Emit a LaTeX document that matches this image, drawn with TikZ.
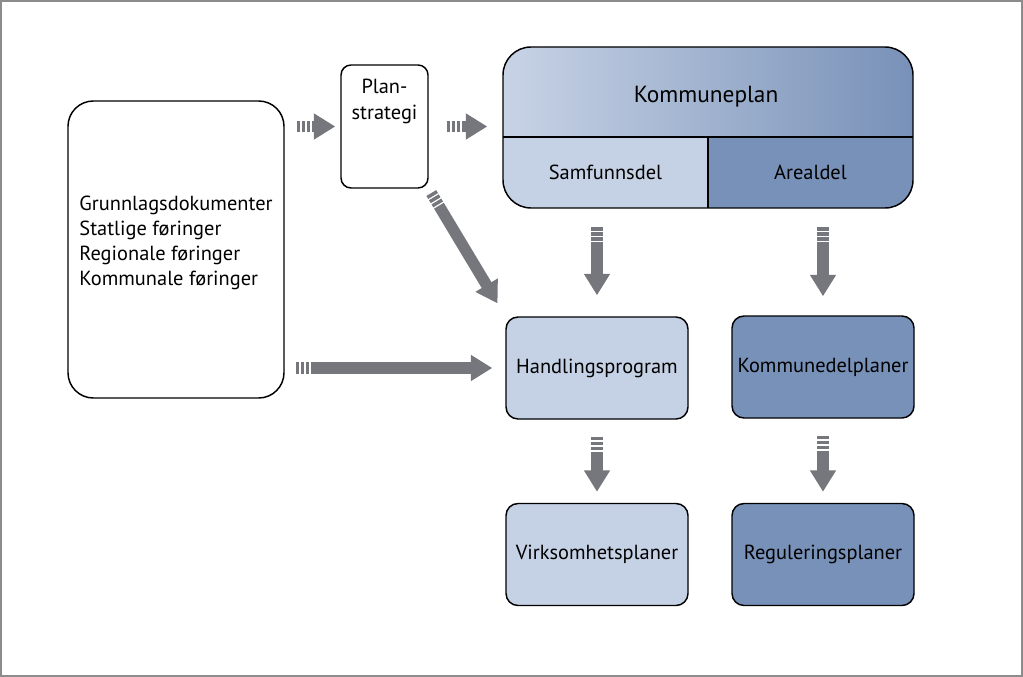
\documentclass[tikz,border=0pt]{standalone}
\usepackage{fontspec}
\setmainfont{PT Sans}
\usetikzlibrary{arrows.meta}
\definecolor{lysblaa}{HTML}{C5D1E4}
\definecolor{morkblaa}{HTML}{7891B8}
\definecolor{pilgraa}{HTML}{76777D}
\begin{document}
\begin{tikzpicture}[x=0.75pt,y=-0.75pt,
		boks/.style={draw,line width=1.1pt,minimum width=136.5pt,minimum height=76.5pt,rounded corners=9pt,font=\fontsize{15.3}{18}\selectfont},
		celle/.style={minimum width=153.75pt,minimum height=53.25pt,inner sep=0pt,font=\fontsize{15.3}{18}\selectfont},
		pil/.style={draw=pilgraa,line width=8.5pt,-{Triangle[length=16pt,width=18.5pt]},
			dash pattern={on 2.6pt off 1.1pt on 2.6pt off 1.1pt on 2.6pt off 1.1pt on 2000pt}}]
	\useasboundingbox (0,0) rectangle (1023,677);
	\draw[gray!90,line width=1.5pt] (1,1) rectangle (1022,676);
	%Venstre boks og planstrategi
	\node[boks,minimum width=162pt,minimum height=222.75pt,rounded corners=19pt,align=left,
		font=\fontsize{15.3}{18.75}\selectfont] (grunnlag) at (176,249.5)
		{Grunnlagsdokumenter\\Statlige føringer\\Regionale føringer\\Kommunale føringer\\[-6pt]};
	\node[boks,minimum width=65.25pt,minimum height=92.25pt,rounded corners=7.5pt] (plan) at (384.5,126.5) {};
	\node[align=center,font=\fontsize{15.3}{19.5}\selectfont] (plantekst) at (384.5,101) {Plan-\\strategi};
	%Kommuneplan
	\begin{scope}
		\clip[rounded corners=21pt] (503,47) rectangle (913,208);
		\shade[left color=lysblaa!95!white,right color=morkblaa] (503,47) rectangle (913,137);
		\fill[lysblaa] (503,137) rectangle (708,208);
		\fill[morkblaa] (708,137) rectangle (913,208);
	\end{scope}
	\node[draw,line width=1.1pt,rounded corners=21pt,minimum width=307.5pt,minimum height=120.75pt] (kramme) at (708,127.5) {};
	\draw[line width=1.1pt] (503,137) -- (913,137) (708,137) -- (708,208);
	\node[font=\fontsize{17.5}{20}\selectfont] (kplan) at (706,97) {Kommuneplan};
	\node[celle] (samf) at (605.5,172.5) {Samfunnsdel};
	\node[celle] (areal) at (810.5,172.5) {Arealdel};
	%Nedre bokser
	\node[boks,fill=lysblaa] (handling) at (597,368) {Handlingsprogram};
	\node[boks,fill=morkblaa] (kdel) at (823,367) {Kommunedelplaner};
	\node[boks,fill=lysblaa] (virk) at (597,554.5) {Virksomhetsplaner};
	\node[boks,fill=morkblaa] (regul) at (823,554.5) {Reguleringsplaner};
	%Piler
	\draw[pil,shorten <=9pt,shorten >=3.75pt] (grunnlag.east |- plan.west) -- (plan.west);
	\draw[pil,shorten <=13.5pt,shorten >=11.25pt] (plan.east) -- (plan.east -| kramme.west);
	\draw[pil,shorten <=8.25pt,shorten >=9.75pt] (grunnlag.east |- handling.west) -- (handling.west);
	\draw[pil,shorten <=3.75pt,shorten >=11.25pt] (plan.south east) -- (handling.north west);
	\draw[pil,shorten <=14.25pt,shorten >=15.75pt] (samf.south -| handling.north) -- (handling.north);
	\draw[pil,shorten <=14.25pt,shorten >=14.25pt] (areal.south -| kdel.north) -- (kdel.north);
	\foreach \a/\b in {handling/virk,kdel/regul}
	\draw[pil,shorten <=12.75pt,shorten >=8.25pt] (\a.south) -- (\b.north);
\end{tikzpicture}
\end{document}
